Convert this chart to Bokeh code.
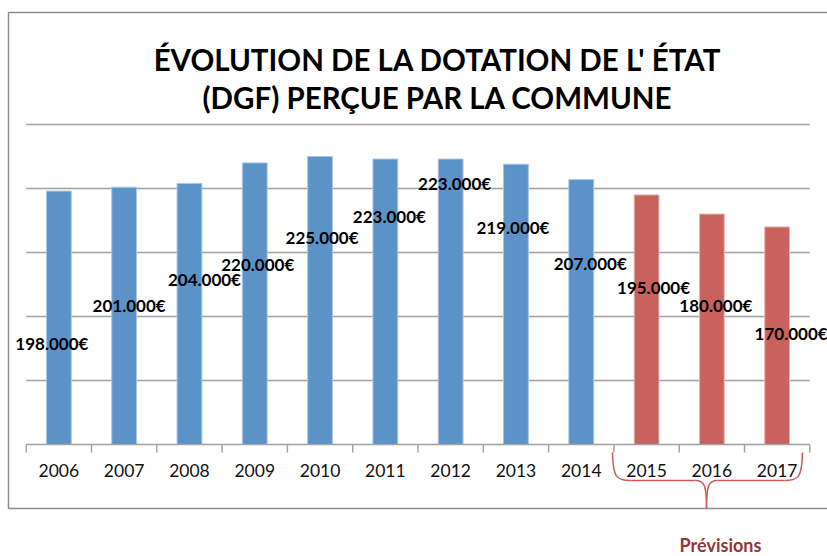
from bokeh.plotting import figure
from bokeh.models import Range1d, ColumnDataSource
from bokeh.core.properties import value
from bokeh.embed import file_html
from bokeh.resources import INLINE

# ---- data ----
years = ["2006", "2007", "2008", "2009", "2010", "2011", "2012", "2013", "2014", "2015", "2016", "2017"]
dotation = [198000, 201000, 204000, 220000, 225000, 223000, 223000, 219000, 207000, 195000, 180000, 170000]
value_labels = ["198.000€", "201.000€", "204.000€", "220.000€", "225.000€", "223.000€",
                "223.000€", "219.000€", "207.000€", "195.000€", "180.000€", "170.000€"]
kind = ["réalisé"] * 9 + ["prévision"] * 3
grid_values = [50000, 100000, 150000, 200000, 250000]
title_lines = ["ÉVOLUTION DE LA DOTATION DE L' ÉTAT", "(DGF) PERÇUE PAR LA COMMUNE"]
forecast_label = "Prévisions"

# label placement (data units for y, pixel offsets for x)
label_y = [78900, 108600, 128900, 140600, 161700, 178100, 203900, 169500, 141400, 122700, 108600, 86700]
label_dx = [-7, 5, 15, 3, 2, 4, 4, -3, 9, 7, 4, 14]

# ---- layout constants ----
W, H = 827, 556
X_LEFT_PX = 25.7
CAT_W = 65.3
BASE_PX = 444
Y_PER_PX = 781.25

def px2x(px):
    return -0.5 + (px - X_LEFT_PX) / CAT_W

def px2y(py):
    return (BASE_PX - py) * Y_PER_PX

p = figure(width=W, height=H, output_backend="svg", toolbar_location=None,
           x_range=Range1d(px2x(0), px2x(W)), y_range=Range1d(px2y(H), px2y(0)),
           x_axis_type=None, y_axis_type=None, min_border=0)
p.grid.visible = False
p.outline_line_color = None
p.background_fill_color = "white"
p.border_fill_color = "white"

n = len(years)
xs = list(range(n))
fill = {"réalisé": "#5B93C8", "prévision": "#C9625F"}
edge = {"réalisé": "#A9C6E6", "prévision": "#E8B4B2"}

GRID_COLOR = "#A0A0A0"

# outer chart frame
p.line(x=[px2x(W + 20), px2x(8), px2x(8), px2x(W + 20)],
       y=[px2y(12), px2y(12), px2y(508), px2y(508)],
       line_color="#8E8E8E", line_width=1.5)

# gridlines
p.segment(x0=[-0.5] * len(grid_values), x1=[n - 0.5] * len(grid_values),
          y0=grid_values, y1=grid_values, line_color=GRID_COLOR, line_width=1.6)

# bars
src = ColumnDataSource(dict(
    x=xs, top=dotation, year=years, lab=value_labels,
    fill=[fill[k] for k in kind], edge=[edge[k] for k in kind],
    ly=label_y, ldx=label_dx,
))
p.vbar(x="x", top="top", bottom=0, width=0.38, source=src,
       fill_color="fill", line_color="edge", line_width=1)

# category axis
p.segment(x0=[-0.5], x1=[n - 0.5], y0=[0], y1=[0], line_color=GRID_COLOR, line_width=1.6)
ticks_x = [i - 0.5 for i in range(n + 1)]
p.segment(x0=ticks_x, x1=ticks_x, y0=[0] * len(ticks_x), y1=[px2y(452)] * len(ticks_x),
          line_color=GRID_COLOR, line_width=1.4)
p.text(x="x", y=px2y(470), text="year", source=src, text_align="center",
       text_baseline="middle", text_font=value("Lato"), text_font_size="17.5px",
       text_color="#111111")

# value labels
p.text(x="x", y="ly", text="lab", x_offset="ldx", source=src, text_align="center",
       text_baseline="middle", text_font=value("Lato"), text_font_style="bold",
       text_font_size="17px", text_color="#000000")

# title
p.text(x=[px2x(437)] * 2, y=[px2y(59), px2y(97)], text=title_lines,
       text_align="center", text_baseline="middle", text_font=value("Lato"),
       text_font_style="bold", text_font_size="29.5px", text_color="#000000")

# brace under the forecast years
BR = "#CC5B58"
bx0 = [px2x(612), px2x(695), px2x(802), px2x(717)]
by0 = [px2y(452), px2y(480), px2y(452), px2y(480)]
bx1 = [px2x(630), px2x(706), px2x(784), px2x(706)]
by1 = [px2y(480), px2y(508), px2y(480), px2y(508)]
bcx0 = [px2x(612.5), px2x(704), px2x(801.5), px2x(708)]
bcy0 = [px2y(477), px2y(480), px2y(477), px2y(480)]
bcx1 = [px2x(616), px2x(706), px2x(798), px2x(706)]
bcy1 = [px2y(480), px2y(485), px2y(480), px2y(485)]
p.bezier(x0=bx0, y0=by0, x1=bx1, y1=by1, cx0=bcx0, cy0=bcy0, cx1=bcx1, cy1=bcy1,
         line_color=BR, line_width=1.5)
p.segment(x0=[px2x(630), px2x(717)], x1=[px2x(695), px2x(784)],
          y0=[px2y(480)] * 2, y1=[px2y(480)] * 2, line_color=BR, line_width=1.5)

p.text(x=[px2x(720)], y=[px2y(544)], text=[forecast_label], text_align="center",
       text_baseline="middle", text_font=value("Lato"), text_font_style="bold",
       text_font_size="18px", text_color="#953735")

open("out.html", "w").write(file_html(p, INLINE))
